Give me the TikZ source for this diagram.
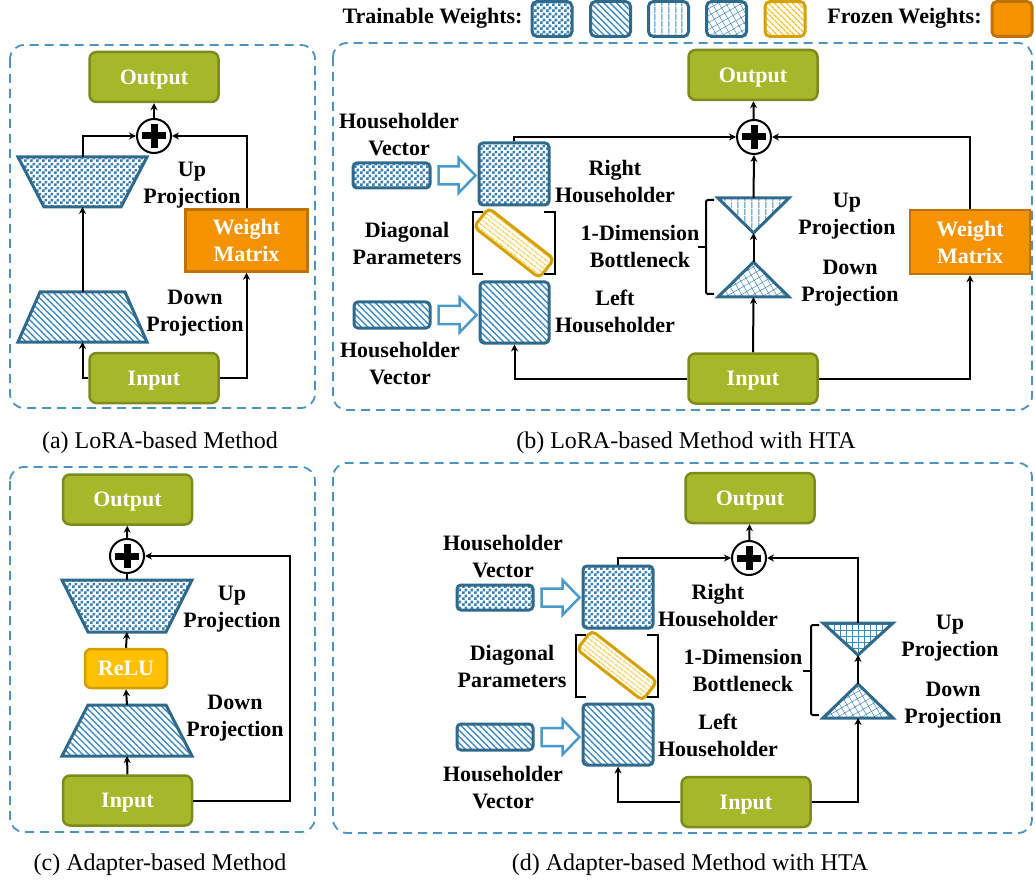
\documentclass[tikz,border=0pt]{standalone}
\usepackage{fontspec}
\setmainfont{Liberation Serif}
\usetikzlibrary{patterns.meta,arrows.meta,calc}

\definecolor{greenfill}{HTML}{A6B82A}
\definecolor{greenline}{HTML}{7D8B1E}
\definecolor{orangefill}{HTML}{F59200}
\definecolor{orangeline}{HTML}{C0720A}
\definecolor{relufill}{HTML}{FFC000}
\definecolor{reluline}{HTML}{D29E00}
\definecolor{blueline}{HTML}{2F6A8C}
\definecolor{patblue}{HTML}{3E8AC0}
\definecolor{chkblue}{HTML}{3580B8}
\definecolor{arrowblue}{HTML}{4A9BCB}
\definecolor{dashblue}{HTML}{4C93C0}
\definecolor{diagline}{HTML}{D6A000}
\definecolor{diagstripe}{HTML}{F4BC10}

% fine two-colour checkerboard used for the checkered weights
\pgfdeclarepatternformonly{finechecker}{\pgfqpoint{0pt}{0pt}}{\pgfqpoint{6pt}{6pt}}{\pgfqpoint{6pt}{6pt}}{%
  \pgfpathrectangle{\pgfqpoint{0pt}{0pt}}{\pgfqpoint{3pt}{3pt}}%
  \pgfpathrectangle{\pgfqpoint{3pt}{3pt}}{\pgfqpoint{3pt}{3pt}}%
  \pgfusepath{fill}}

\tikzset{
  bfont/.style={font=\fontsize{22}{27}\selectfont\bfseries},
  lbl/.style={bfont, align=center, inner sep=0pt},
  captext/.style={font=\fontsize{24}{28}\selectfont, inner sep=0pt, anchor=base},
  panel/.style={draw=dashblue, line width=1.8pt, dash pattern=on 9pt off 6pt, rounded corners=14pt},
  io/.style={rectangle, draw=greenline, fill=greenfill, line width=2.5pt, rounded corners=7pt,
    text=white, bfont, minimum width=129pt, minimum height=50pt, inner sep=0pt,
    text height=16pt, text depth=1.5pt},
  wmat/.style={rectangle, draw=orangeline, fill=orangefill, line width=2.5pt, text=white, bfont,
    align=center, minimum width=122pt, minimum height=62pt, inner sep=0pt},
  relu/.style={rectangle, draw=reluline, fill=relufill, line width=2.5pt, rounded corners=6pt,
    text=white, bfont, minimum width=82pt, minimum height=39pt, inner sep=0pt,
    text height=16pt, text depth=1.5pt},
  shapebox/.style={rectangle, inner sep=0pt, outer sep=0pt},
  shp/.style={draw=blueline, line width=3pt, line join=miter},
  sq/.style={rectangle, draw=blueline, line width=3pt, rounded corners=4pt, inner sep=0pt},
  conn/.style={draw=black, line width=2pt, -{Stealth[length=7pt,width=7pt]}},
  plainline/.style={draw=black, line width=2pt},
  adder/.style={circle, draw=black, line width=2pt, minimum size=34pt, inner sep=0pt, fill=white},
  barrow/.style={draw=arrowblue, line width=2.5pt, line join=miter, fill=white},
  diagpar/.style={rectangle, draw=diagline, line width=3pt, rounded corners=5pt, minimum width=83pt,
    minimum height=24pt, inner sep=0pt, rotate=-38,
    pattern={Lines[angle=-38,distance=4pt,line width=1.3pt]}, pattern color=diagstripe},
  brk/.style={draw=black, line width=2pt},
  pchk/.style={pattern=finechecker, pattern color=chkblue},
  pdiag/.style={pattern={Lines[angle=-45,distance=4.5pt,line width=1.4pt]}, pattern color=patblue},
  pvert/.style={pattern={Lines[angle=90,distance=6.5pt,line width=1pt]}, pattern color=patblue},
  pcross/.style={pattern={Hatch[angle=30,distance=6pt,line width=0.5pt]}, pattern color=patblue},
  pgrid/.style={pattern={Hatch[angle=0,distance=6pt,line width=0.8pt]}, pattern color=patblue},
  pyel/.style={pattern={Lines[angle=-45,distance=4pt,line width=1.3pt]}, pattern color=diagstripe},
}

% trapezium narrow at the bottom (up projection)
\newcommand\invtrap[3]{\draw[shp,#3] (#1.north west) -- (#1.north east) -- ($(#1.south east)+(-#2,0)$) -- ($(#1.south west)+(#2,0)$) -- cycle;}
% trapezium narrow at the top (down projection)
\newcommand\uptrap[3]{\draw[shp,#3] (#1.south west) -- (#1.south east) -- ($(#1.north east)+(-#2,0)$) -- ($(#1.north west)+(#2,0)$) -- cycle;}
% triangles of the one-dimension bottleneck
\newcommand\invtri[2]{\draw[shp,#2] (#1.north west) -- (#1.north east) -- (#1.south) -- cycle;}
\newcommand\uptri[2]{\draw[shp,#2] (#1.south west) -- (#1.south east) -- (#1.north) -- cycle;}
% bold plus inside an adder
\newcommand\plusmark[1]{\fill (#1.center) ++(-12,-3.5) rectangle ++(24,7); \fill (#1.center) ++(-3.5,-12) rectangle ++(7,24);}
% hollow block arrow from a vector to its Householder matrix
\newcommand\blockarrow[2]{%
  \coordinate (ba-s) at ($(#1.east)+(7,0)$);
  \coordinate (ba-e) at ($(ba-s -| #2.west)+(-2,0)$);
  \draw[barrow] ($(ba-s)+(0,-9)$) -- ($(ba-e)+(-17,-9)$) -- ($(ba-e)+(-17,-17.5)$) -- (ba-e)
    -- ($(ba-e)+(-17,17.5)$) -- ($(ba-e)+(-17,9)$) -- ($(ba-s)+(0,9)$) -- cycle;}
% square brackets around the diagonal parameters
\newcommand\diagbrackets[1]{%
  \draw[brk] ($(#1.center)+(-31,-31)$) -- ($(#1.center)+(-41,-31)$) -- ($(#1.center)+(-41,31)$) -- ($(#1.center)+(-31,31)$);
  \draw[brk] ($(#1.center)+(30,-31)$) -- ($(#1.center)+(41,-31)$) -- ($(#1.center)+(41,31)$) -- ($(#1.center)+(30,31)$);}
% brace grouping the two bottleneck triangles
\newcommand\bneck[2]{%
  \draw[brk, rounded corners=2pt] ($(#1.north west)+(-4,2)$) -- ($(#1.north west)+(-12,2)$)
    -- ($(#2.south west)+(-12,-3)$) -- ($(#2.south west)+(-4,-3)$);
  \draw[brk] ($(#1.north west)!0.5!(#2.south west)+(-12,0)$) -- ++(-8,0);}

\begin{document}
\begin{tikzpicture}[x=1pt,y=-1pt]
\useasboundingbox (0,0) rectangle (1035,882);

% ---------------- legend ----------------
\node[lbl] (lgT) at (432.5,18) {Trainable Weights:};
\node[sq, pchk, minimum width=40pt, minimum height=35pt, rounded corners=5pt] (lg1) at (552,19) {};
\node[sq, pdiag, minimum width=40pt, minimum height=35pt, rounded corners=5pt] (lg2) at (610.5,19) {};
\node[sq, pvert, minimum width=40pt, minimum height=35pt, rounded corners=5pt] (lg3) at (668.5,19) {};
\node[sq, pcross, minimum width=40pt, minimum height=35pt, rounded corners=5pt] (lg4) at (726.5,19) {};
\node[sq, draw=diagline, pyel, minimum width=40pt, minimum height=35pt, rounded corners=5pt] (lg5) at (785,19) {};
\node[lbl] (lgF) at (904.5,18) {Frozen Weights:};
\node[sq, draw=orangeline, fill=orangefill, minimum width=40pt, minimum height=35pt, rounded corners=5pt] (lg6) at (1012,19) {};

% ---------------- panels ----------------
\draw[panel] (10,45) rectangle (315,408);
\draw[panel] (333,43) rectangle (1032,410);
\draw[panel] (10,467) rectangle (315,832);
\draw[panel] (333,463) rectangle (1032,833);

% ---------------- (a) LoRA ----------------
\node[io] (outA) at (154,77) {Output};
\node[adder] (plusA) at (154,136) {};
\plusmark{plusA}
\node[shapebox, minimum width=129pt, minimum height=50pt] (upA) at (82.5,182) {};
\node[shapebox, minimum width=129pt, minimum height=50pt] (dnA) at (82.5,317) {};
\invtrap{upA}{26}{pchk}
\uptrap{dnA}{22}{pdiag}
\node[io] (inA) at (154,378) {Input};
\node[wmat] (wmA) at (246.5,240.5) {Weight\\Matrix};
\draw[conn] (plusA) -- (outA);
\draw[conn] (upA.north) |- (plusA.west);
\draw[conn] (dnA.north) -- (upA.south);
\draw[conn] (inA.west) -| (dnA.south);
\draw[conn] (inA.east) -| (wmA.south);
\draw[conn] (wmA.north) |- (plusA.east);
\node[lbl] (tUpA) at (192,185) {Up\\Projection};
\node[lbl] (tDnA) at (195,313.5) {Down\\Projection};
\node[captext] (capA) at (160,448) {(a) LoRA-based Method};

% ---------------- (b) LoRA with HTA ----------------
\node[io] (outB) at (753,75) {Output};
\node[adder] (plusB) at (754,137) {};
\plusmark{plusB}
\node[io] (inB) at (753,378.5) {Input};
\node[wmat, minimum width=120pt, minimum height=64pt] (wmB) at (970,242) {Weight\\Matrix};
\node[shapebox, minimum width=71pt, minimum height=35pt] (upTB) at (753.5,215.5) {};
\node[shapebox, minimum width=71pt, minimum height=35pt] (dnTB) at (753.5,279.5) {};
\invtri{upTB}{pvert}
\uptri{dnTB}{pcross}
\node[sq, pchk, minimum width=77pt, minimum height=25pt] (vTB) at (391.5,175.5) {};
\node[sq, pdiag, minimum width=76pt, minimum height=26pt] (vBB) at (392,315) {};
\node[sq, pchk, minimum width=70pt, minimum height=62pt] (rhB) at (514,174) {};
\node[sq, pdiag, minimum width=69pt, minimum height=61pt] (lhB) at (514.5,312.5) {};
\node[diagpar] (dgB) at (514,243) {};
\diagbrackets{dgB}
\blockarrow{vTB}{rhB}
\blockarrow{vBB}{lhB}
\bneck{upTB}{dnTB}
\draw[conn] (plusB) -- (outB);
\draw[conn] (rhB.north) |- (plusB.west);
\draw[conn] (wmB.north) |- (plusB.east);
\draw[conn] (upTB.north) -- (plusB.south);
\draw[conn] (dnTB.north) -- (upTB.south);
\draw[conn] (inB.north) -- (dnTB.south);
\draw[conn] (inB.west) -| (lhB.south);
\draw[conn] (inB.east) -| (wmB.south);
\node[lbl] (tHvTB) at (399,135) {Householder\\Vector};
\node[lbl] (tHvBB) at (400,363.5) {Householder\\Vector};
\node[lbl] (tDgB) at (407,243.5) {Diagonal\\Parameters};
\node[lbl] (tRhB) at (615,181.5) {Right\\Householder};
\node[lbl] (tLhB) at (615,311.5) {Left\\Householder};
\node[lbl] (tBnB) at (640,246.5) {1-Dimension\\Bottleneck};
\node[lbl] (tUpB) at (847,216.5) {Up\\Projection};
\node[lbl] (tDnB) at (850,283.5) {Down\\Projection};
\node[captext] (capB) at (686,448) {(b) LoRA-based Method with HTA};

% ---------------- (c) Adapter ----------------
\node[io] (outC) at (127.5,499.5) {Output};
\node[adder] (plusC) at (127,556) {};
\plusmark{plusC}
\node[shapebox, minimum width=130pt, minimum height=52pt] (upC) at (127,606) {};
\node[shapebox, minimum width=130pt, minimum height=51pt] (dnC) at (127,730.5) {};
\invtrap{upC}{26}{pchk}
\uptrap{dnC}{26}{pdiag}
\node[relu] (reluC) at (126,668.5) {ReLU};
\node[io] (inC) at (127.5,800.5) {Input};
\coordinate (loopC) at (290,556);
\draw[conn] (plusC) -- (outC);
\draw[plainline] (upC.north) -- (plusC.south);
\draw[conn] (reluC.north) -- (upC.south);
\draw[conn] (dnC.north) -- (reluC.south);
\draw[conn] (inC.north) -- (dnC.south);
\draw[conn] (inC.east) -| (loopC) -- (plusC.east);
\node[lbl] (tUpC) at (232,609) {Up\\Projection};
\node[lbl] (tDnC) at (235,718.5) {Down\\Projection};
\node[captext] (capC) at (160,870) {(c) Adapter-based Method};

% ---------------- (d) Adapter with HTA ----------------
\node[io] (outD) at (750,498) {Output};
\node[adder] (plusD) at (749,558) {};
\plusmark{plusD}
\node[shapebox, minimum width=70pt, minimum height=32pt] (upTD) at (858,639) {};
\node[shapebox, minimum width=70pt, minimum height=34pt] (dnTD) at (858,701) {};
\invtri{upTD}{pgrid}
\uptri{dnTD}{pcross}
\node[io] (inD) at (746,802) {Input};
\node[sq, pchk, minimum width=76pt, minimum height=25pt] (vTD) at (495,597.5) {};
\node[sq, pdiag, minimum width=76pt, minimum height=26pt] (vBD) at (495,737) {};
\node[sq, pchk, minimum width=70pt, minimum height=62pt] (rhD) at (618,597) {};
\node[sq, pdiag, minimum width=70pt, minimum height=61pt] (lhD) at (618,734.5) {};
\node[diagpar] (dgD) at (617,665.5) {};
\diagbrackets{dgD}
\blockarrow{vTD}{rhD}
\blockarrow{vBD}{lhD}
\bneck{upTD}{dnTD}
\draw[conn] (plusD) -- (outD);
\draw[conn] (rhD.north) |- (plusD.west);
\draw[conn] (upTD.north) |- (plusD.east);
\draw[conn] (dnTD.north) -- (upTD.south);
\draw[conn] (inD.east) -| (dnTD.south);
\draw[conn] (inD.west) -| (lhD.south);
\node[lbl] (tHvTD) at (503,556.5) {Householder\\Vector};
\node[lbl] (tHvBD) at (503,787.5) {Householder\\Vector};
\node[lbl] (tDgD) at (512,666.5) {Diagonal\\Parameters};
\node[lbl] (tRhD) at (718,605) {Right\\Householder};
\node[lbl] (tLhD) at (718,735) {Left\\Householder};
\node[lbl] (tBnD) at (743,670) {1-Dimension\\Bottleneck};
\node[lbl] (tUpD) at (950,638.5) {Up\\Projection};
\node[lbl] (tDnD) at (953,705) {Down\\Projection};
\node[captext] (capD) at (690,870) {(d) Adapter-based Method with HTA};
\end{tikzpicture}
\end{document}
